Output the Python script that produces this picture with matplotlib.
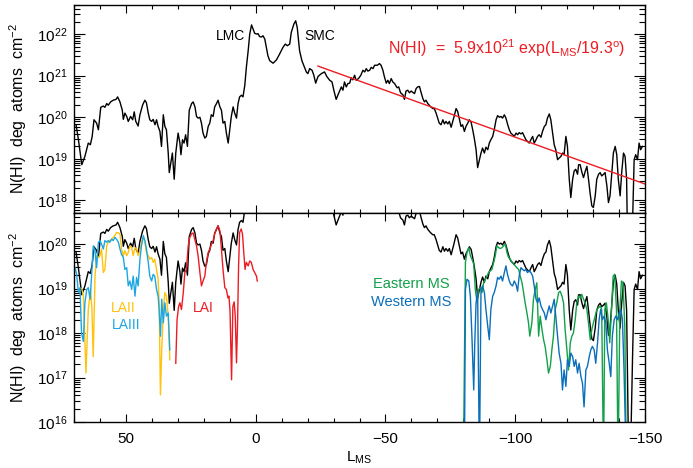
import numpy as np
import matplotlib
matplotlib.use("Agg")
import matplotlib.pyplot as plt
from matplotlib.ticker import LogLocator, MultipleLocator, LogFormatterSciNotation, NullFormatter

plt.rcParams['font.family'] = ['Liberation Sans', 'DejaVu Sans']
plt.rcParams['mathtext.fontset'] = 'custom'
plt.rcParams['mathtext.rm'] = 'Liberation Sans'
plt.rcParams['mathtext.it'] = 'Liberation Sans:italic'
plt.rcParams['mathtext.bf'] = 'Liberation Sans:bold'

# Total HI column along the Stream (log10 of N(HI) deg atoms cm^-2) vs. L_MS
total_lms = [
    69.2, 68.3, 67.0, 65.8, 64.5, 63.7, 63.0, 62.3, 61.3, 60.6,
    59.7, 58.7, 58.1, 57.4, 56.8, 55.9, 54.9, 53.8, 53.2, 52.3,
    51.4, 51.0, 50.4, 49.7, 49.1, 48.2, 47.4, 46.8, 46.2, 45.3,
    44.6, 43.6, 42.7, 42.1, 41.4, 40.8, 40.1, 39.5, 38.8, 38.2,
    37.6, 36.9, 36.3, 35.6, 35.0, 34.4, 33.7, 33.3, 32.7, 32.1,
    31.4, 30.8, 29.9, 29.2, 28.8, 28.2, 27.6, 27.0, 26.3, 25.6,
    24.7, 24.1, 23.4, 22.8, 22.2, 21.5, 20.9, 20.3, 19.6, 19.0,
    18.3, 17.7, 17.1, 16.4, 15.8, 15.1, 14.5, 13.8, 13.2, 12.6,
    11.9, 11.3, 10.6, 10.0, 9.4, 8.7, 8.1, 7.4, 6.8, 6.2,
    5.5, 4.9, 4.2, 3.6, 2.9, 2.3, 1.6, 1.0, 0.4, -0.3,
    -0.9, -1.5, -2.2, -2.8, -3.5, -4.1, -4.7, -5.4, -6.7, -8.0,
    -9.2, -10.5, -11.4, -12.2, -13.1, -13.7, -14.7, -15.4, -16.0, -16.9,
    -17.8, -18.8, -19.5, -20.1, -20.8, -21.7, -22.4, -23.1, -24.0, -25.3,
    -26.5, -27.4, -28.5, -29.4, -30.1, -31.0, -31.9, -33.0, -33.6, -34.2,
    -34.9, -35.5, -36.2, -36.8, -37.4, -38.1, -38.7, -39.6, -40.5, -41.3,
    -42.0, -42.6, -43.2, -43.9, -44.5, -45.2, -45.8, -46.8, -47.7, -48.3,
    -49.0, -49.6, -50.3, -50.9, -51.5, -52.2, -52.8, -53.5, -54.5, -55.1,
    -55.8, -56.7, -57.3, -57.9, -58.6, -59.2, -59.9, -60.5, -61.2, -61.8,
    -62.4, -63.1, -63.7, -64.4, -65.0, -65.6, -66.3, -67.3, -68.2, -68.8,
    -69.5, -70.1, -70.7, -71.4, -72.1, -72.7, -73.3, -74.0, -74.6, -75.3,
    -76.4, -77.2, -77.8, -78.5, -79.1, -79.7, -80.4, -81.0, -81.7, -82.3,
    -83.0, -83.6, -84.2, -84.9, -85.5, -86.2, -86.8, -87.4, -88.1, -88.7,
    -89.4, -90.0, -90.6, -91.3, -91.9, -92.6, -93.2, -93.9, -94.5, -95.1,
    -95.8, -96.4, -97.1, -97.7, -98.3, -99.0, -99.6, -100.3, -100.9, -101.5,
    -102.2, -102.8, -103.5, -104.1, -104.7, -105.4, -106.0, -106.7, -107.3, -108.0,
    -108.6, -109.2, -109.9, -110.5, -111.2, -111.8, -112.4, -113.1, -113.7, -114.4,
    -115.0, -115.6, -116.3, -116.9, -117.6, -118.2, -118.8, -119.5, -120.1, -120.8,
    -121.4, -122.1, -122.7, -123.3, -124.0, -124.4, -125.0, -125.7, -126.3, -127.0,
    -127.6, -128.3, -128.8, -129.5, -130.1, -130.8, -131.4, -132.1, -132.7, -133.3,
    -134.0, -134.6, -135.3, -135.9, -136.5, -137.2, -137.8, -138.5, -139.1, -139.7,
    -140.4, -141.0, -141.7, -142.3, -142.9, -143.6, -144.5, -145.2, -145.8, -146.4,
    -147.1, -147.7, -148.3, -149.0,
]
total_log_nhi = [
    19.82, 19.46, 18.86, 19.06, 19.38, 19.34, 19.54, 19.94, 19.86, 19.70,
    20.24, 20.27, 20.24, 20.33, 20.29, 20.37, 20.41, 20.43, 20.49, 20.37,
    20.17, 19.95, 20.10, 20.02, 19.90, 20.02, 19.94, 20.13, 19.90, 19.79,
    20.06, 20.29, 20.41, 20.35, 20.10, 19.94, 19.90, 19.95, 19.82, 19.94,
    19.78, 19.66, 19.30, 20.06, 19.78, 19.70, 19.14, 18.67, 18.90, 19.14,
    18.51, 19.14, 19.62, 19.38, 19.10, 19.46, 19.38, 19.58, 19.30, 20.17,
    20.33, 20.37, 20.25, 20.02, 19.98, 20.00, 19.86, 19.62, 19.50, 19.54,
    19.78, 19.86, 20.06, 20.02, 20.25, 20.33, 20.41, 20.25, 20.17, 19.86,
    19.90, 19.62, 19.38, 19.70, 20.02, 20.25, 20.10, 19.98, 20.33, 20.49,
    20.53, 20.49, 20.77, 21.20, 21.60, 22.00, 22.22, 22.12, 22.02, 22.00,
    22.01, 21.94, 21.93, 21.96, 21.88, 21.68, 21.48, 21.36, 21.30, 21.38,
    21.52, 21.68, 21.76, 21.72, 21.76, 22.04, 22.24, 22.32, 22.16, 21.60,
    21.36, 21.20, 21.09, 21.05, 21.17, 21.13, 21.01, 20.82, 20.98, 21.05,
    21.09, 20.98, 20.89, 20.85, 20.65, 20.43, 20.57, 20.73, 20.65, 20.85,
    20.73, 20.81, 20.82, 20.95, 20.90, 21.01, 20.89, 20.93, 21.01, 21.13,
    21.09, 21.17, 21.11, 21.13, 21.20, 21.17, 21.25, 21.25, 21.29, 21.25,
    21.13, 20.97, 20.82, 20.89, 20.81, 20.93, 20.85, 20.81, 20.71, 20.73,
    20.59, 20.54, 20.43, 20.63, 20.65, 20.59, 20.63, 20.60, 20.57, 20.69,
    20.73, 20.74, 20.60, 20.45, 20.37, 20.41, 20.33, 20.26, 20.21, 20.21,
    20.10, 19.98, 19.86, 19.82, 19.94, 19.84, 19.90, 19.84, 19.90, 19.76,
    20.01, 20.21, 20.14, 19.94, 19.78, 19.82, 19.66, 19.78, 19.86, 19.94,
    19.88, 19.70, 19.50, 19.22, 18.79, 18.98, 19.14, 19.26, 19.14, 19.28,
    19.22, 19.38, 19.46, 19.54, 19.70, 19.94, 20.04, 20.00, 20.02, 19.98,
    20.06, 19.98, 19.82, 19.70, 19.62, 19.58, 19.54, 19.62, 19.58, 19.63,
    19.60, 19.63, 19.54, 19.46, 19.42, 19.38, 19.46, 19.54, 19.38, 19.46,
    19.54, 19.58, 19.52, 19.66, 19.78, 19.82, 19.98, 20.08, 19.94, 19.62,
    19.34, 19.22, 18.98, 19.02, 19.06, 19.14, 19.10, 19.54, 19.30, 18.51,
    18.07, 18.51, 18.71, 18.75, 18.63, 18.86, 18.86, 18.67, 18.55, 18.71,
    18.82, 18.47, 18.19, 17.87, 17.83, 18.11, 18.51, 18.63, 18.67, 18.59,
    18.63, 18.67, 18.35, 17.95, 18.11, 18.67, 19.14, 19.30, 19.10, 18.51,
    18.11, 18.67, 19.14, 19.06, 18.51, 15.50, 15.50, 17.50, 18.98, 19.10,
    18.98, 19.38, 19.22, 19.30,
]

# Leading Arm components
lai_lms = [30.8, 30.3, 29.7, 29.2, 28.6, 27.9, 27.3, 26.7, 26.0, 25.4,
           24.7, 24.1, 23.5, 22.8, 22.2, 21.5, 20.9, 20.3, 19.6, 19.0,
           18.3, 17.7, 17.0, 16.4, 15.8, 15.1, 14.5, 13.8, 13.2, 12.6,
           11.9, 11.3, 10.7, 10.3, 9.9, 9.3, 8.8, 8.3, 7.9, 7.4,
           7.0, 6.6, 6.2, 5.6, 5.1, 4.6, 4.1, 3.6, 2.9, 2.3,
           1.7, 1.0, 0.4, -0.3, -0.6]
lai_log_nhi = [17.32, 18.30, 18.60, 18.68, 18.53, 18.91, 19.36, 19.43, 19.96, 20.15,
               20.23, 20.25, 20.11, 19.96, 19.74, 19.36, 19.06, 19.17, 19.28, 19.59,
               19.81, 19.89, 20.00, 20.08, 20.23, 20.34, 20.41, 20.30, 19.89, 19.43,
               19.02, 18.98, 18.79, 18.83, 18.50, 16.95, 18.60, 18.70, 18.40, 17.33,
               18.20, 19.50, 20.26, 20.34, 20.23, 19.81, 19.43, 19.59, 19.51, 19.62,
               19.59, 19.43, 19.36, 19.28, 19.17]

laii_lms = [67.0, 66.4, 65.4, 64.5, 63.6, 63.1, 62.6, 61.9, 61.3, 60.6, 60.0,
            59.4, 58.7, 58.1, 57.4, 56.8, 56.2, 55.5, 54.9, 54.2, 53.6,
            52.9, 52.3, 51.7, 51.0, 50.4, 49.7, 49.1, 48.5, 47.8, 47.2,
            46.5, 45.9, 45.3, 44.6, 44.0, 43.3, 42.7, 42.1, 41.4, 40.8,
            40.1, 39.5, 38.9, 38.2, 37.6, 37.2, 36.7, 36.2, 35.6, 35.0,
            34.4, 33.7, 33.1]
laii_log_nhi = [19.00, 18.83, 17.10, 18.53, 18.98, 18.53, 17.47, 19.28, 19.74, 19.70, 19.74,
                19.89, 19.36, 19.43, 19.96, 20.04, 20.08, 20.11, 20.15, 20.20, 20.26,
                20.25, 20.23, 19.89, 19.74, 19.85, 19.74, 19.81, 19.96, 19.92, 19.74,
                19.92, 19.89, 19.74, 19.85, 20.04, 20.15, 20.04, 19.81, 19.74, 19.66,
                19.70, 19.59, 19.66, 19.43, 19.21, 18.68, 16.61, 17.62, 18.53, 18.91,
                18.83, 18.38, 17.40]

laiii_lms = [69.6, 69.0, 68.3, 67.7, 67.1, 66.4, 65.8, 65.1, 64.5, 63.8,
             63.2, 62.6, 61.9, 61.3, 60.6, 60.0, 59.4, 58.7, 58.1, 57.4,
             56.8, 56.2, 55.5, 54.9, 54.2, 53.6, 52.9, 52.3, 51.7, 51.0,
             50.4, 49.7, 49.1, 48.5, 47.8, 47.2, 46.5, 45.9, 45.3, 44.6,
             44.0, 43.3, 42.7, 42.1, 41.4, 40.8, 40.1, 39.5, 38.9, 38.2,
             37.6, 37.2, 36.7, 36.2, 35.6, 35.0, 34.4, 33.7, 33.1]
laiii_log_nhi = [19.47, 19.32, 18.91, 19.02, 18.00, 17.81, 18.68, 18.98, 19.02, 18.76,
                 19.32, 19.96, 19.85, 19.47, 20.04, 20.08, 20.00, 19.89, 20.08, 20.04,
                 20.08, 20.04, 20.11, 20.08, 20.15, 20.11, 20.04, 19.89, 19.77, 19.70,
                 19.43, 19.47, 19.06, 19.17, 18.98, 19.28, 18.83, 19.25, 19.06, 19.66,
                 19.96, 20.19, 20.08, 19.89, 19.59, 19.28, 19.17, 19.32, 19.28, 18.98,
                 18.83, 18.53, 17.93, 18.76, 18.23, 18.68, 18.38, 18.45, 17.62]

# Magellanic Stream filaments
east_lms = [-80.0, -80.8, -81.4, -82.1, -82.7, -83.3, -84.0, -84.6, -85.3, -85.9,
            -86.5, -87.2, -87.8, -88.5, -89.1, -89.7, -90.4, -91.0, -91.7, -92.3,
            -92.9, -93.6, -94.2, -94.9, -95.5, -96.2, -96.8, -97.4, -98.1, -98.7,
            -99.4, -100.0, -100.6, -101.3, -101.9, -102.6, -103.2, -103.8, -104.5, -105.1,
            -105.6, -106.4, -107.0, -107.7, -108.3, -109.0, -109.6, -110.3, -110.9, -111.5,
            -112.2, -112.8, -113.5, -114.1, -114.7, -115.4, -116.0, -116.7, -117.3, -118.0,
            -118.6, -119.2, -119.9, -120.5, -121.2, -121.8, -122.4, -123.1, -123.7, -124.4,
            -125.0, -125.6, -126.3, -126.9, -127.6, -128.2, -128.9, -129.5, -130.1, -130.8,
            -131.4, -132.1, -132.7, -133.3, -134.0, -134.5, -135.1, -135.8, -136.4, -137.1,
            -137.7, -138.3, -139.0, -139.6, -140.3, -140.9, -141.5, -142.2, -142.8]
east_log_nhi = [15.00, 19.59, 19.81, 19.92, 19.74, 19.66, 19.55, 18.98, 18.68, 18.98,
                19.02, 18.91, 19.13, 19.21, 19.28, 19.36, 19.40, 19.43, 19.59, 19.74,
                19.96, 19.92, 19.90, 19.92, 19.96, 20.00, 19.81, 19.70, 19.66, 19.59,
                19.55, 19.51, 19.47, 19.43, 19.28, 19.13, 18.91, 18.68, 18.45, 18.23,
                17.93, 18.23, 18.76, 18.98, 19.13, 17.93, 18.38, 18.08, 17.85, 17.70,
                17.40, 17.10, 17.25, 17.62, 17.93, 18.53, 18.68, 18.91, 18.94, 18.83,
                18.68, 18.08, 17.62, 17.17, 17.78, 17.93, 18.00, 18.30, 18.68, 18.83,
                18.79, 18.87, 18.76, 18.68, 18.53, 18.23, 17.85, 18.08, 18.23, 18.38,
                18.53, 18.57, 18.61, 18.53, 15.00, 18.53, 18.68, 18.30, 17.78, 18.53,
                19.28, 19.32, 18.53, 15.00, 18.53, 19.17, 19.13, 18.15, 15.00]

west_lms = [-80.4, -80.8, -81.4, -82.1, -82.7, -83.3, -84.0, -84.4, -84.9, -85.5,
            -86.2, -86.8, -87.4, -88.1, -88.7, -89.4, -90.0, -90.6, -91.3, -91.9,
            -92.6, -93.2, -93.8, -94.5, -95.1, -95.8, -96.4, -97.0, -97.7, -98.3,
            -99.0, -99.6, -100.3, -100.9, -101.5, -102.2, -102.8, -103.5, -104.1, -104.7,
            -105.4, -106.0, -106.7, -107.3, -108.0, -108.6, -109.2, -109.9, -110.5, -111.2,
            -111.8, -112.4, -113.1, -113.7, -114.4, -115.0, -115.6, -116.3, -116.9, -117.6,
            -118.2, -118.8, -119.5, -120.1, -120.8, -121.4, -122.1, -122.7, -123.3, -124.0,
            -124.6, -125.3, -125.9, -126.5, -127.2, -127.8, -128.5, -129.1, -129.7, -130.4,
            -131.0, -131.7, -132.3, -132.9, -133.6, -134.2, -134.9, -135.5, -136.2, -136.8,
            -137.4, -138.1, -138.7, -139.4, -140.0, -140.7, -141.3, -141.9, -142.3, -142.8]
west_log_nhi = [15.00, 18.98, 19.21, 19.17, 18.83, 17.93, 16.72, 17.78, 18.68, 18.91,
                15.00, 18.98, 19.06, 18.91, 18.53, 18.15, 17.85, 18.53, 18.83, 18.91,
                19.06, 19.25, 19.21, 19.28, 19.17, 19.36, 19.51, 19.32, 19.17, 19.09,
                19.06, 19.17, 19.09, 18.94, 19.28, 19.47, 19.43, 19.40, 19.43, 19.36,
                19.40, 19.36, 19.28, 19.06, 18.76, 18.68, 18.79, 18.61, 18.53, 18.45,
                18.30, 18.45, 18.61, 18.45, 18.61, 18.76, 18.38, 17.93, 17.55, 17.32,
                16.72, 17.17, 16.80, 17.40, 17.25, 17.55, 17.47, 17.25, 17.40, 17.10,
                17.32, 17.02, 16.87, 16.34, 17.17, 17.25, 17.47, 17.62, 17.70, 17.62,
                17.32, 17.78, 18.30, 18.53, 18.30, 18.38, 18.23, 17.62, 17.32, 17.02,
                17.93, 18.30, 18.38, 18.30, 18.45, 18.53, 18.30, 17.17, 16.19, 15.00]

# Exponential fit to the Stream tail: N(HI) = A exp(L_MS / scale)
fit_amp = 5.9e21
fit_scale = 19.3
fit_range = (-24.0, -150.0)

c_red = '#ED1C24'
c_yellow = '#FFC20E'
c_cyan = '#1CA6E2'
c_green = '#12A04A'
c_blue = '#0A6FBA'

fig = plt.figure(figsize=(6.93, 4.68), dpi=100)
ax_top = fig.add_axes([0.1068, 0.5449, 0.8240, 0.4444])
ax_bot = fig.add_axes([0.1068, 0.0983, 0.8240, 0.4466])

def nhi(vals):
    return 10.0 ** np.asarray(vals)

lw = 1.0
ax_top.plot(total_lms, nhi(total_log_nhi), color='black', lw=lw)
fit_l = np.linspace(fit_range[0], fit_range[1], 200)
ax_top.plot(fit_l, fit_amp * np.exp(fit_l / fit_scale), color=c_red, lw=1.0)

ax_bot.plot(total_lms, nhi(total_log_nhi), color='black', lw=lw)
ax_bot.plot(laii_lms, nhi(laii_log_nhi), color=c_yellow, lw=lw)
ax_bot.plot(laiii_lms, nhi(laiii_log_nhi), color=c_cyan, lw=lw)
ax_bot.plot(lai_lms, nhi(lai_log_nhi), color=c_red, lw=lw)
ax_bot.plot(east_lms, nhi(east_log_nhi), color=c_green, lw=lw)
ax_bot.plot(west_lms, nhi(west_log_nhi), color=c_blue, lw=lw)

ax_top.set_ylim(5e17, 5e22)
ax_bot.set_ylim(1e16, 5e20)

for ax in (ax_top, ax_bot):
    ax.set_yscale('log')
    ax.set_xlim(70, -150)
    ax.xaxis.set_major_locator(MultipleLocator(50))
    ax.xaxis.set_minor_locator(MultipleLocator(10))
    ax.yaxis.set_major_locator(LogLocator(base=10, numticks=20))
    ax.yaxis.set_minor_locator(LogLocator(base=10, subs=np.arange(2, 10), numticks=20))
    ax.yaxis.set_major_formatter(LogFormatterSciNotation())
    ax.yaxis.set_minor_formatter(NullFormatter())
    ax.tick_params(which='both', direction='in', top=True, right=True,
                   width=0.8, colors='black', labelsize=11)
    ax.xaxis.set_tick_params(which='major', length=6, pad=7)
    ax.xaxis.set_tick_params(which='minor', length=3)
    ax.yaxis.set_tick_params(which='major', length=8, pad=5)
    ax.yaxis.set_tick_params(which='minor', length=4.5)
    for sp in ax.spines.values():
        sp.set_linewidth(1.0)
    ax.set_ylabel(r'N(HI)  deg  atoms  cm$^{-2}$', fontsize=11.5)
    ax.yaxis.set_label_coords(-0.079, 0.5)

ax_top.tick_params(labelbottom=False)
ax_bot.set_xlabel(r'L$_{\rm MS}$', fontsize=11, labelpad=3)

ax_top.text(9.6, 9.1e21, 'LMC', ha='center', va='center', fontsize=10)
ax_top.text(-24.6, 9.1e21, 'SMC', ha='center', va='center', fontsize=10)
ax_top.text(-96.5, 4.7e21,
            r'N(HI)  =  5.9x10$^{21}$ exp(L$_{\rm MS}$/19.3$^{\rm o}$)',
            ha='center', va='center', fontsize=11.5, color=c_red)

ax_bot.text(51.2, 10 ** 18.57, 'LAII', ha='center', va='center', fontsize=10, color=c_yellow)
ax_bot.text(50.0, 10 ** 18.17, 'LAIII', ha='center', va='center', fontsize=10, color=c_cyan)
ax_bot.text(20.0, 10 ** 18.57, 'LAI', ha='center', va='center', fontsize=10, color=c_red)
ax_bot.text(-60.0, 10 ** 19.10, 'Eastern MS', ha='center', va='center', fontsize=10.5, color=c_green)
ax_bot.text(-60.0, 10 ** 18.69, 'Western MS', ha='center', va='center', fontsize=10.5, color=c_blue)

fig.savefig('out.png', dpi=100)
